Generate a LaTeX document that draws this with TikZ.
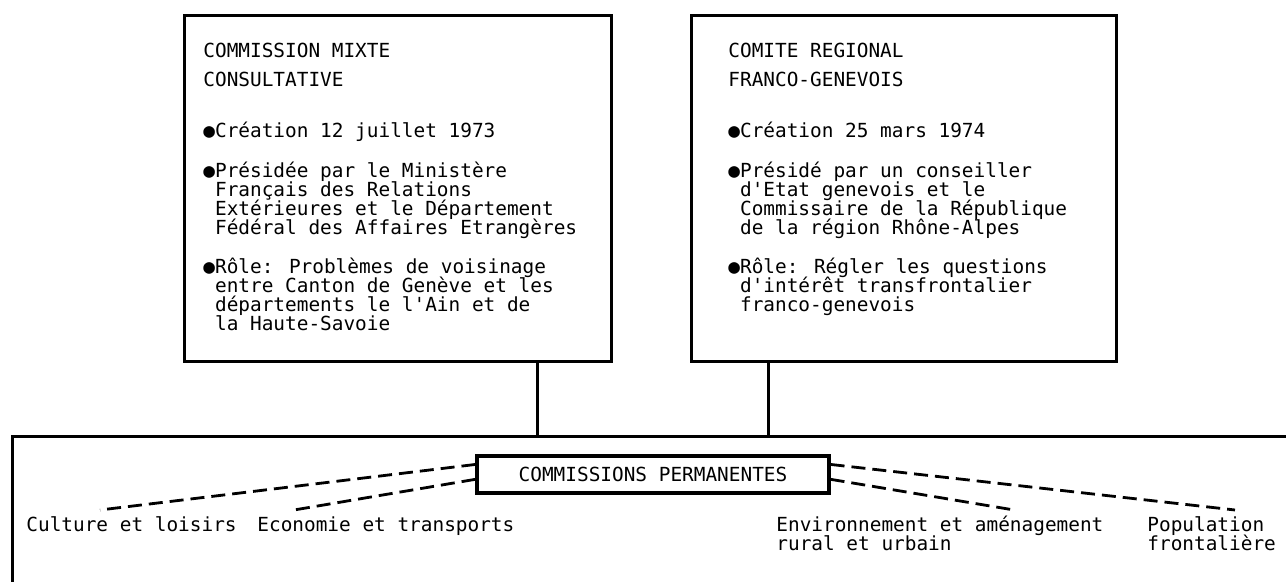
\documentclass[tikz,border=0pt]{standalone}
\usepackage{fontspec}
\usepackage{tikz}
\usetikzlibrary{calc}
\newfontfamily\typefont{DejaVu Sans Mono}
\newcommand{\diagfont}{\typefont\fontsize{9.7}{9.5}\selectfont\lineskiplimit=-100pt\relax}
\newcommand{\bul}{●}
\newcommand{\ind}{\hphantom{●}}

\begin{document}
\begin{tikzpicture}[x=0.5pt,y=-0.5pt,
    every node/.style={font=\diagfont,inner sep=0pt},
    BoxStyle/.style={draw,rectangle,line width=1.6pt},
    LinkStyle/.style={line width=1.5pt},
    DashStyle/.style={line width=1.4pt,dash pattern=on 7pt off 3.5pt}]
  \useasboundingbox (0,0) rectangle (1286,582);
  \clip (0,0) rectangle (1286,582);

  % the two top boxes
  \node[BoxStyle,anchor=north west,minimum width=213.5pt,minimum height=173pt] (cmm) at (183,14) {};
  \node[BoxStyle,anchor=north west,minimum width=212.5pt,minimum height=173pt] (crfg) at (690,14) {};

  \node[anchor=north west,align=left] (cmmText) at (203,43) {COMMISSION MIXTE\\[5pt]
    CONSULTATIVE\\[16pt]
    \bul Création 12 juillet 1973\\[10.5pt]
    \bul Présidée par le Ministère\\
    \ind Français des Relations\\
    \ind Extérieures et le Département\\
    \ind Fédéral des Affaires Etrangères\\[10pt]
    \bul Rôle: Problèmes de voisinage\\
    \ind entre Canton de Genève et les\\
    \ind départements le l'Ain et de\\
    \ind la Haute-Savoie};

  \node[anchor=north west,align=left] (crfgText) at (728,43) {COMITE REGIONAL\\[5pt]
    FRANCO-GENEVOIS\\[16pt]
    \bul Création 25 mars 1974\\[10.5pt]
    \bul Présidé par un conseiller\\
    \ind d'Etat genevois et le\\
    \ind Commissaire de la République\\
    \ind de la région Rhône-Alpes\\[10pt]
    \bul Rôle: Régler les questions\\
    \ind d'intérêt transfrontalier\\
    \ind franco-genevois};

  % lower frame
  \node[BoxStyle,anchor=north west,minimum width=700pt,minimum height=150pt] (frame) at (11,435) {};
  \coordinate (jL) at (537,400);
  \coordinate (jR) at (768,400);
  \draw[LinkStyle] (cmm.south -| jL) -- (frame.north -| jL);
  \draw[LinkStyle] (crfg.south -| jR) -- (frame.north -| jR);

  \node[BoxStyle,minimum width=176pt,minimum height=18.5pt] (comp) at (653,474.5) {COMMISSIONS PERMANENTES};

  % the commissions
  \node[anchor=north west] (cult) at (26,516) {Culture et loisirs};
  \node[anchor=north west] (econ) at (257,516) {Economie et transports};
  \node[anchor=north west,align=left] (envi) at (776,516) {Environnement et aménagement\\rural et urbain};
  \node[anchor=north west,align=left] (popu) at (1147,516) {Population\\frontalière};

  \coordinate (cultEnd) at (100,510);
  \coordinate (econEnd) at (294,510);
  \coordinate (enviEnd) at (1014,510);
  \coordinate (popuEnd) at (1235,510);

  \draw[DashStyle] ($(comp.north west)!0.25!(comp.south west)$) -- (cultEnd);
  \draw[DashStyle] ($(comp.north west)!0.62!(comp.south west)$) -- (econEnd);
  \draw[DashStyle] ($(comp.north east)!0.25!(comp.south east)$) -- (popuEnd);
  \draw[DashStyle] ($(comp.north east)!0.62!(comp.south east)$) -- (enviEnd);
\end{tikzpicture}
\end{document}
